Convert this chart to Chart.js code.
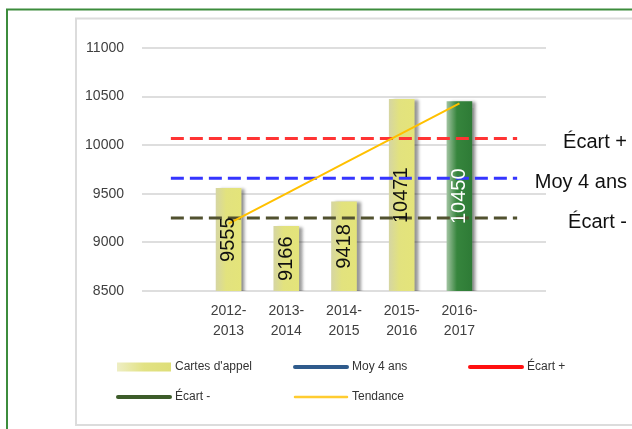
<!DOCTYPE html>
<html>
<head>
<meta charset="utf-8">
<script src="https://cdn.jsdelivr.net/npm/chart.js@4.4.1/dist/chart.umd.min.js"></script>
<style>
  html, body { margin: 0; padding: 0; background: #fff; }
</style>
</head>
<body>
<canvas id="barCanvas" width="632" height="429"></canvas>
<script>
// Cartes d'appel par année, avec moyenne, écarts et tendance
const categories = ["", ["2012-", "2013"], ["2013-", "2014"], ["2014-", "2015"], ["2015-", "2016"], ["2016-", "2017"], ""];
const cartes = [null, 9555, 9166, 9418, 10471, 10450, null];
const moy4ans = [9660, 9660, 9660, 9660, 9660, 9660, 9660];
const ecartPlus = [10070, 10070, 10070, 10070, 10070, 10070, 10070];
const ecartMoins = [9250, 9250, 9250, 9250, 9250, 9250, 9250];
const tendance = [null, 9193, 9502, 9812, 10121, 10431, null];
const yTicks = [8500, 9000, 9500, 10000, 10500, 11000];

const FONT = "'Liberation Sans', Arial, sans-serif";
const currentYear = 5;

function barFill(context) {
    const chart = context.chart;
    if (!chart.chartArea) return "#e2e27e";
    const x = chart.scales.x.getPixelForValue(context.dataIndex);
    const g = chart.ctx.createLinearGradient(x - 12.5, 0, x + 12.5, 0);
    if (context.dataIndex === currentYear) {
        g.addColorStop(0, "#9fc29f");
        g.addColorStop(0.4, "#36853d");
        g.addColorStop(1, "#2e7b36");
    } else {
        g.addColorStop(0, "#d6d6a2");
        g.addColorStop(0.4, "#e2e27e");
        g.addColorStop(1, "#e4e47a");
    }
    return g;
}

const frame = {
    id: "frame",
    beforeDraw(chart) {
        const c = chart.ctx;
        c.save();
        c.fillStyle = "#fff";
        c.fillRect(0, 0, chart.width, chart.height);
        c.strokeStyle = "#dcdcdc";
        c.lineWidth = 2;
        c.strokeRect(76, 18.5, 700, 406.5);
        c.strokeStyle = "#3c8c3c";
        c.strokeRect(7, 9.5, 700, 500);
        c.restore();
    }
};

const barShadow = {
    id: "barShadow",
    beforeDatasetDraw(chart, args) {
        if (chart.data.datasets[args.index].type !== "bar") return;
        const c = chart.ctx;
        c.save();
        c.shadowColor = "rgba(0,0,0,0.4)";
        c.shadowBlur = 3;
        c.shadowOffsetX = 4;
        c.shadowOffsetY = 1;
    },
    afterDatasetDraw(chart, args) {
        if (chart.data.datasets[args.index].type !== "bar") return;
        chart.ctx.restore();
    }
};

const labelsPlugin = {
    id: "labelsPlugin",
    afterDatasetsDraw(chart) {
        const c = chart.ctx;
        const xs = chart.scales.x;
        const ys = chart.scales.y;
        const base = ys.getPixelForValue(yTicks[0]);
        // valeurs dans les barres
        cartes.forEach((v, i) => {
            if (v == null) return;
            const x = xs.getPixelForValue(i);
            const top = ys.getPixelForValue(v);
            c.save();
            c.translate(x, (top + base) / 2);
            c.rotate(-Math.PI / 2);
            c.font = "20px " + FONT;
            c.textAlign = "center";
            c.textBaseline = "middle";
            c.fillStyle = i === currentYear ? "#ffffff" : "#111111";
            c.fillText(String(v), 0, 0);
            c.restore();
        });
        // étiquettes à droite des lignes
        [1, 2, 3].forEach((d) => {
            const ds = chart.data.datasets[d];
            const y = ys.getPixelForValue(ds.data[ds.data.length - 1]);
            c.save();
            c.font = "20px " + FONT;
            c.textAlign = "right";
            c.textBaseline = "middle";
            c.fillStyle = "#111";
            c.fillText(ds.label, 627, y + 4);
            c.restore();
        });
    }
};

const legendPlugin = {
    id: "legendPlugin",
    afterDraw(chart) {
        const c = chart.ctx;
        const cols = [117, 294, 469];
        const rows = [367, 397];
        chart.data.datasets.forEach((ds, i) => {
            const x = cols[i % 3];
            const y = rows[Math.floor(i / 3)];
            c.save();
            if (ds.type === "bar") {
                const g = c.createLinearGradient(x, 0, x + 54, 0);
                g.addColorStop(0, "#eeeec4");
                g.addColorStop(0.5, "#e2e284");
                g.addColorStop(1, "#dede78");
                c.fillStyle = g;
                c.fillRect(x, y - 4.5, 54, 9);
            } else {
                c.strokeStyle = ds.legendColor;
                c.lineWidth = ds.legendWidth;
                c.lineCap = "round";
                c.beginPath();
                c.moveTo(x + 1, y);
                c.lineTo(x + 53, y);
                c.stroke();
            }
            c.font = "12px " + FONT;
            c.fillStyle = "#333";
            c.textAlign = "left";
            c.textBaseline = "middle";
            c.fillText(ds.label, x + 58, y);
            c.restore();
        });
    }
};

const lineBase = {
    type: "line",
    borderWidth: 3,
    borderDash: [13, 6],
    pointRadius: 0,
    fill: false,
    order: 1,
};

new Chart(document.getElementById("barCanvas"), {
    data: {
        labels: categories,
        datasets: [
            {
                type: "bar",
                label: "Cartes d'appel",
                data: cartes,
                backgroundColor: barFill,
                barThickness: 25,
                order: 5,
            },
            Object.assign({}, lineBase, {
                label: "Moy 4 ans",
                data: moy4ans,
                borderColor: "#3535ff",
                legendColor: "#2f5b8c",
                legendWidth: 4,
            }),
            Object.assign({}, lineBase, {
                label: "Écart +",
                data: ecartPlus,
                borderColor: "#ff3434",
                legendColor: "#ff1010",
                legendWidth: 4,
            }),
            Object.assign({}, lineBase, {
                label: "Écart -",
                data: ecartMoins,
                borderColor: "#51512f",
                legendColor: "#3d5c2a",
                legendWidth: 4,
            }),
            {
                type: "line",
                label: "Tendance",
                data: tendance,
                borderColor: "#ffc000",
                borderWidth: 2,
                pointRadius: 0,
                fill: false,
                order: 0,
                legendColor: "#ffcc30",
                legendWidth: 2.5,
            },
        ],
    },
    options: {
        responsive: false,
        devicePixelRatio: 1,
        animation: false,
        layout: { padding: { left: 80, right: 86, top: 48, bottom: 78 } },
        plugins: {
            legend: { display: false },
            tooltip: { enabled: false },
        },
        scales: {
            x: {
                grid: { display: false, drawTicks: false },
                border: { display: false },
                ticks: {
                    padding: 10,
                    color: "#404040",
                    font: { family: FONT, size: 14, lineHeight: 1.43 },
                    maxRotation: 0,
                    autoSkip: false,
                },
                afterFit(scale) { scale.height = 60; },
            },
            y: {
                min: yTicks[0],
                max: yTicks[yTicks.length - 1],
                grid: { color: "#dedede", lineWidth: 2, drawTicks: false },
                border: { display: false },
                ticks: {
                    stepSize: 500,
                    padding: 18,
                    color: "#404040",
                    font: { family: FONT, size: 14 },
                    callback: (v) => String(v),
                },
                afterFit(scale) { scale.width = 62; },
            },
        },
    },
    plugins: [frame, barShadow, labelsPlugin, legendPlugin],
});
</script>
</body>
</html>
